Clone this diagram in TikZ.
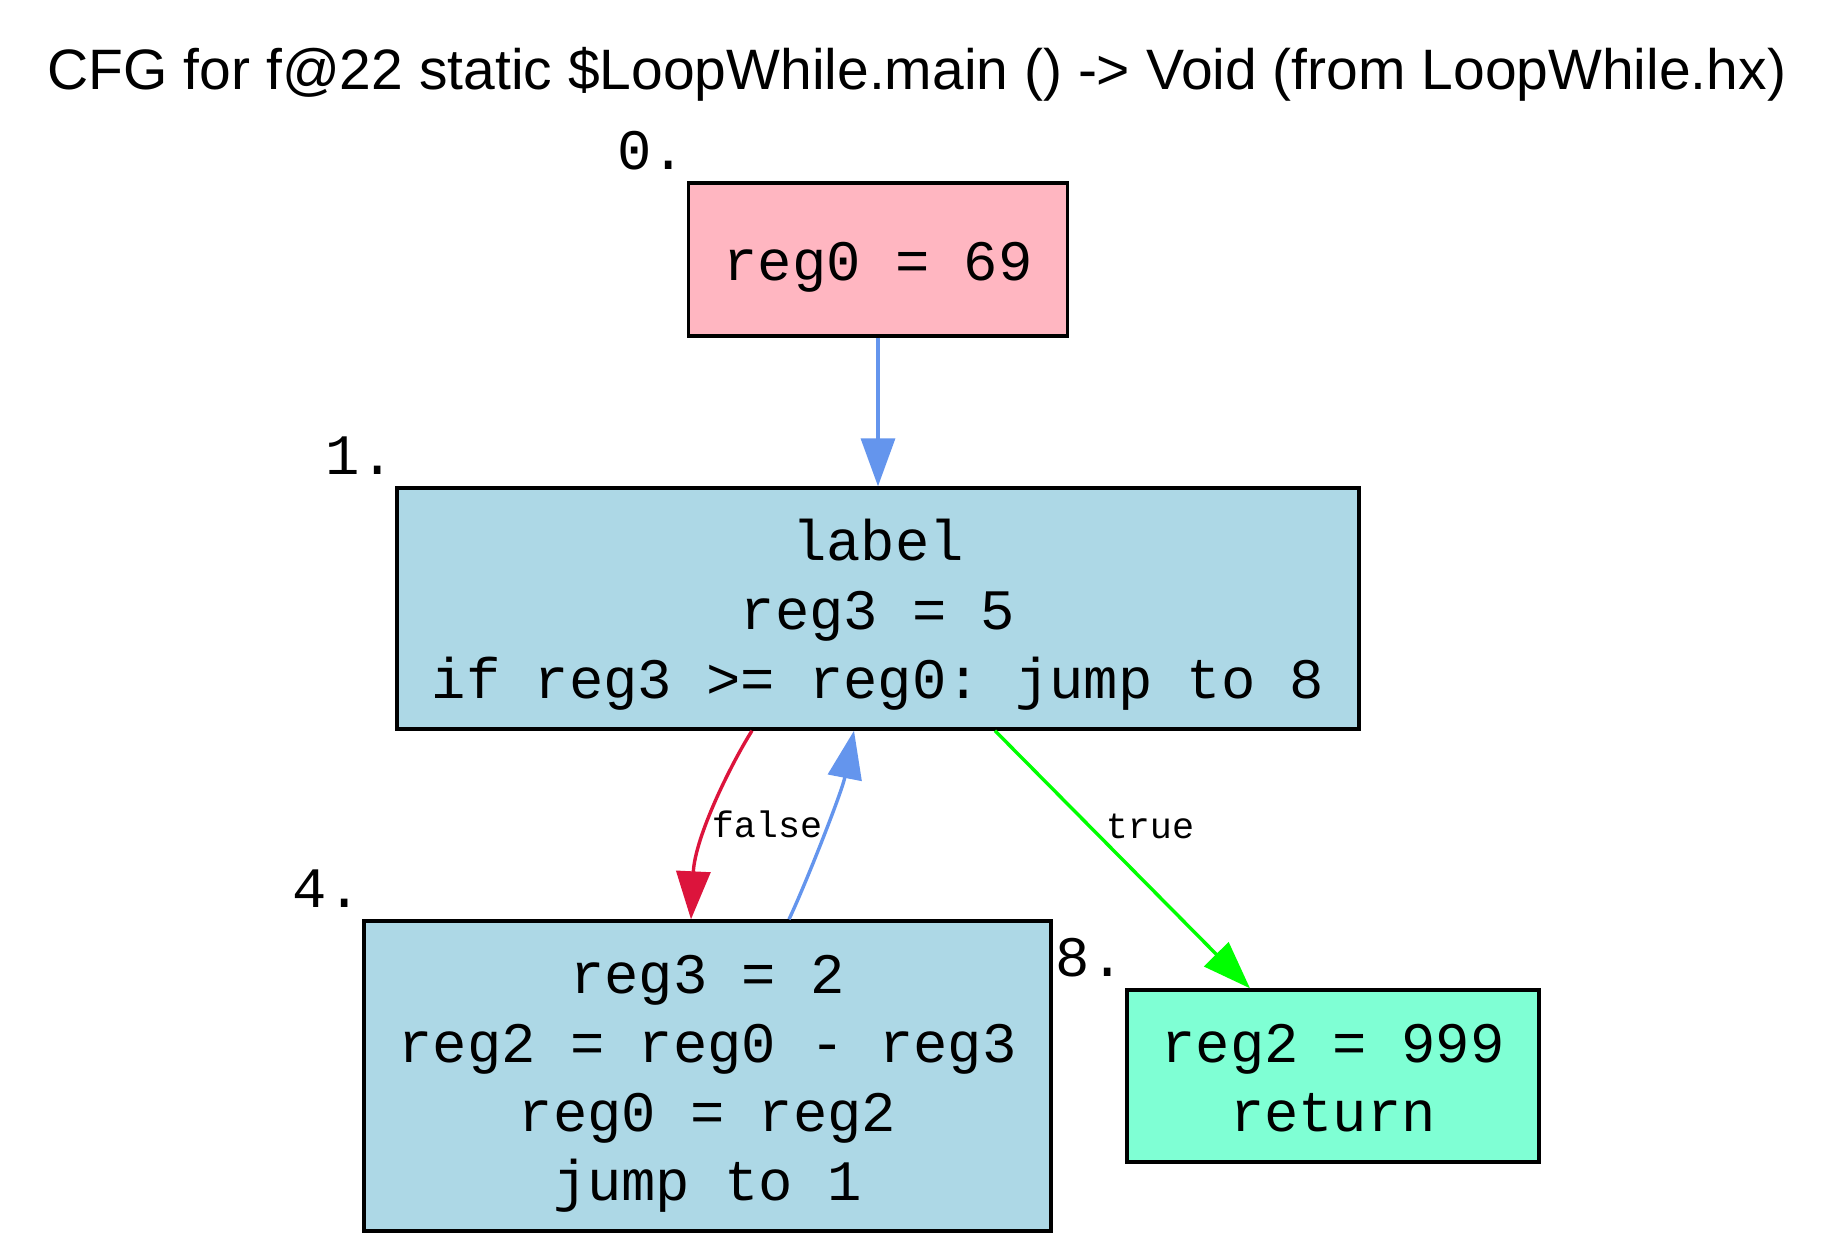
\documentclass[tikz,border=0pt]{standalone}
\usepackage{fontspec}
\setmainfont{Liberation Sans}
\setmonofont{Liberation Mono}
\usetikzlibrary{arrows.meta,calc}

\definecolor{blockpink}{HTML}{FFB6C1}
\definecolor{blockblue}{HTML}{ADD8E6}
\definecolor{blockaqua}{HTML}{7FFFD4}
\definecolor{jumpblue}{HTML}{6495ED}
\definecolor{falsered}{HTML}{DC143C}
\definecolor{truegreen}{HTML}{00FF00}

% strut for the first and last line of a block
\newcommand\cstop{\rule{0pt}{13.4pt}}
\newcommand\csbot{\rule[-3pt]{0pt}{3pt}}

\begin{document}
\begin{tikzpicture}[x=0.25pt,y=-0.25pt,
  block/.style={draw,line width=0.85pt,inner sep=0pt,align=center,
    font=\ttfamily\fontsize{14.3pt}{17.25pt}\selectfont},
  idx/.style={inner sep=0pt,anchor=base east,
    font=\ttfamily\fontsize{14.3pt}{17.25pt}\selectfont},
  flow/.style={line width=0.85pt,-{Triangle[length=12pt,width=8.5pt]}},
  elabel/.style={inner sep=0pt,anchor=base,
    font=\ttfamily\fontsize{9.2pt}{11pt}\selectfont}]
  \useasboundingbox (0,0) rectangle (1834,1247);

  \node[anchor=base,inner sep=0pt,font=\fontsize{14.25pt}{17pt}\selectfont] (title) at (917,89)
    {CFG for f@22 static \$LoopWhile.main () -> Void (from LoopWhile.hx)};

  % basic blocks
  \node[block,fill=blockpink,minimum width=94.75pt,minimum height=38.25pt] (b0) at (878,259.5)
    {\cstop reg0 = 69\csbot};
  \node[block,fill=blockblue,minimum width=240.5pt,minimum height=60.25pt] (b1) at (878,608.5)
    {\cstop label\\reg3 = 5\\if reg3 >= reg0: jump to 8\csbot};
  \node[block,fill=blockblue,minimum width=171.75pt,minimum height=77.5pt] (b4) at (707.5,1076)
    {\cstop reg3 = 2\\reg2 = reg0 - reg3\\reg0 = reg2\\jump to 1\csbot};
  \node[block,fill=blockaqua,minimum width=103pt,minimum height=43pt] (b8) at (1333,1076)
    {\cstop reg2 = 999\\return\csbot};

  \node[idx] (i0) at ([yshift=3pt]b0.north west) {0.};
  \node[idx] (i1) at ([yshift=3pt]b1.north west) {1.};
  \node[idx] (i4) at ([yshift=3pt]b4.north west) {4.};
  \node[idx] (i8) at ([yshift=3pt]b8.north west) {8.};

  % control flow
  \draw[flow,jumpblue] (b0) -- (b1);
  \draw[flow,falsered] ($(b1.south)+(-126,0)$) .. controls +(-22,35) and +(4,-82) .. ($(b4.north)+(-16.5,0)$);
  \draw[flow,jumpblue] ($(b4.north)+(81.5,0)$) .. controls +(17,-36) and +(-12,61) .. ($(b1.south)+(-24,0)$);
  \draw[flow,truegreen] ($(b1.south)+(117,0)$) -- ($(b8.north)+(-83,0)$);

  \node[elabel] (lfalse) at (767,837) {false};
  \node[elabel] (ltrue) at (1150,838) {true};
\end{tikzpicture}
\end{document}
